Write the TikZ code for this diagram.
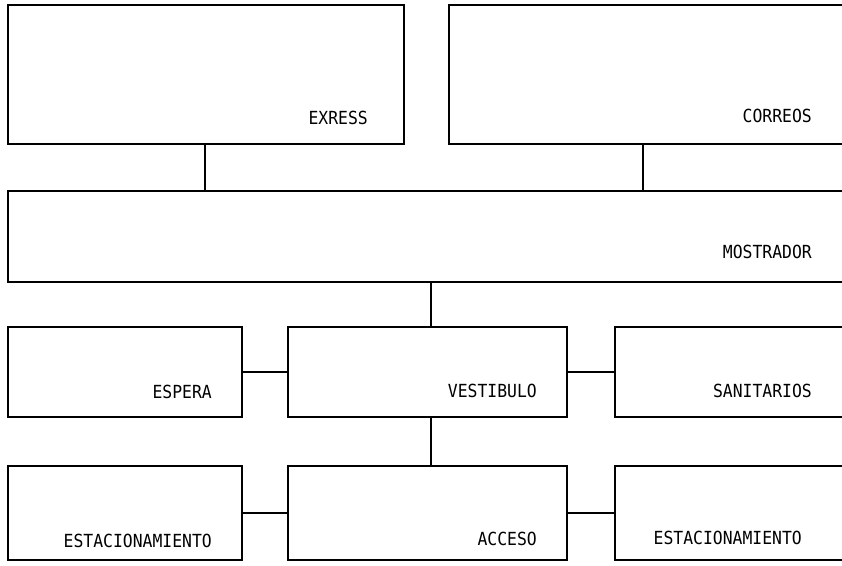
\documentclass[tikz,border=0pt]{standalone}
\usepackage{fontspec}
\setmonofont{DejaVu Sans Mono}
\usepackage{graphicx}
\usepackage{tikz}
\usetikzlibrary{positioning, calc}

\newcommand{\roomname}[1]{\scalebox{1}[1.1]{#1}}

\begin{document}
\begin{tikzpicture}[x=0.03cm, y=-0.03cm,
    room/.style 2 args={rectangle, draw, line width=1pt, inner sep=0pt, minimum width=#1*0.03cm, minimum height=#2*0.03cm},
    tag/.style={font=\ttfamily\fontsize{14}{17}\selectfont, anchor=base east, inner sep=0pt},
    line/.style={draw, line width=1pt}]

    \useasboundingbox (0,0) rectangle (842,566);
    \clip (0,0) rectangle (842,566);

    % Nodes
    \node [room={396}{139}] (exress) at (206,74.5) {};
    \node [room={420}{139}] (correos) at (659,74.5) {};
    \node [room={860}{91}] (mostrador) at (438,236.5) {};
    \node [room={234}{90}] (espera) at (125,372) {};
    \node [room={279}{90}] (vestibulo) at (427.5,372) {};
    \node [room={250}{90}] (sanitarios) at (740,372) {};
    \node [room={234}{94}] (estac1) at (125,513) {};
    \node [room={279}{94}] (acceso) at (427.5,513) {};
    \node [room={250}{94}] (estac2) at (740,513) {};

    % Texte
    \node [tag] (t-exress) at (368,125) {\roomname{EXRESS}};
    \node [tag] (t-correos) at (812,123) {\roomname{CORREOS}};
    \node [tag] (t-mostrador) at (812,258) {\roomname{MOSTRADOR}};
    \node [tag] (t-espera) at (212,398) {\roomname{ESPERA}};
    \node [tag] (t-vestibulo) at (537,397) {\roomname{VESTIBULO}};
    \node [tag] (t-sanitarios) at (812,397) {\roomname{SANITARIOS}};
    \node [tag] (t-estac1) at (212,547) {\roomname{ESTACIONAMIENTO}};
    \node [tag] (t-acceso) at (537,545) {\roomname{ACCESO}};
    \node [tag] (t-estac2) at (802,544) {\roomname{ESTACIONAMIENTO}};

    % Paths
    \coordinate (c1) at (205,0);
    \coordinate (c2) at (643,0);
    \coordinate (c3) at (431,0);
    \path [line] (exress.south -| c1) -- (mostrador.north -| c1);
    \path [line] (correos.south -| c2) -- (mostrador.north -| c2);
    \path [line] (mostrador.south -| c3) -- (vestibulo.north -| c3);
    \path [line] (espera) -- (vestibulo);
    \path [line] (vestibulo) -- (sanitarios);
    \path [line] (vestibulo.south -| c3) -- (acceso.north -| c3);
    \path [line] (estac1) -- (acceso);
    \path [line] (acceso) -- (estac2);

\end{tikzpicture}
\end{document}
